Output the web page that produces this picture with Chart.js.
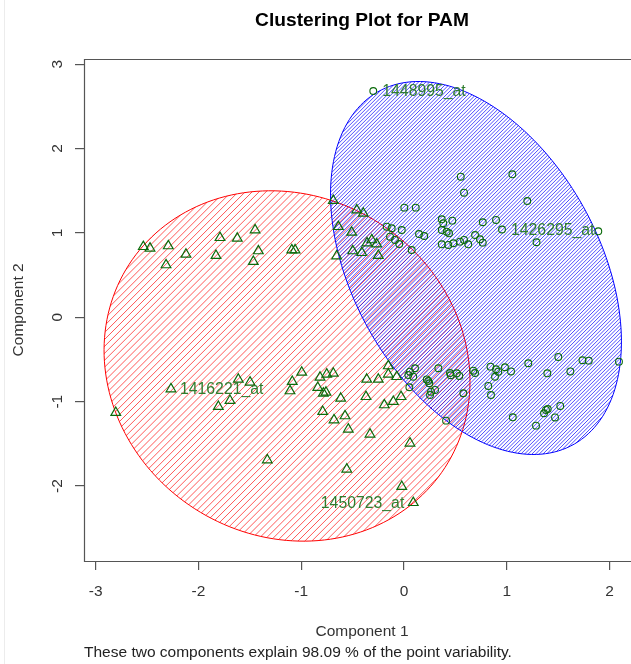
<!DOCTYPE html>
<html>
<head>
<meta charset="utf-8">
<script src="https://cdn.jsdelivr.net/npm/chart.js@4/dist/chart.umd.min.js"></script>
<style>
  html, body { margin: 0; padding: 0; background: #fff; overflow: hidden; }
  #wrap { width: 631px; height: 664px; position: relative; }
</style>
</head>
<body>
<div id="wrap"><canvas id="c" width="631" height="664"></canvas></div>
<script>
// ---------------- data ----------------
const chartTitle = "Clustering Plot for PAM";
const xAxisTitle = "Component 1";
const yAxisTitle = "Component 2";
const footnote = "These two components explain 98.09 % of the point variability.";

const xTickValues = [-3, -2, -1, 0, 1, 2];
const yTickValues = [-2, -1, 0, 1, 2, 3];

// cluster 1 (triangles)
const cluster1X = [-2.536,-2.471,-2.293,-2.315,-2.121,-1.790,-1.829,-1.622,-1.449,-1.417,-1.466,-1.092,-1.060,-0.688,-0.460,-0.396,-0.639,-0.509,-0.655,-0.499,-0.411,-0.314,-0.266,-0.250,-0.360,
  -2.267,-1.612,-1.498,-1.806,-1.693,-2.804,-1.330,-0.995,-1.087,-1.109,-0.817,-0.752,-0.688,-0.839,-0.785,-0.759,-0.616,-0.791,-0.681,-0.574,-0.542,-0.363,-0.250,-0.153,-0.153,-0.071,-0.370,-0.331,-0.192,-0.104,-0.029,0.058,-0.557,-0.022,0.090];
const cluster1Y = [0.836,0.818,0.845,0.620,0.746,0.943,0.730,0.936,1.034,0.786,0.659,0.797,0.797,1.382,1.271,1.232,1.073,1.007,0.726,0.786,0.765,0.916,0.868,0.730,0.880,
  -0.850,-0.735,-0.770,-1.059,-0.988,-1.130,-1.691,-0.652,-0.763,-0.873,-0.711,-0.675,-0.664,-0.834,-0.900,-0.889,-0.960,-1.118,-1.217,-1.169,-1.327,-0.735,-0.735,-0.577,-0.675,-0.704,-0.941,-1.386,-1.039,-1.000,-0.941,-1.493,-1.801,-2.007,-2.197];

// cluster 2 (circles)
const cluster2X = [-0.299,0.552,0.584,1.054,1.199,0.003,0.114,-0.168,-0.120,-0.022,-0.136,-0.088,-0.046,0.146,0.197,0.367,0.382,0.470,0.367,0.415,0.438,0.367,0.431,0.480,0.545,0.584,0.625,0.691,0.739,0.766,0.766,0.895,0.953,1.289,1.890,0.075,
  1.209,1.501,1.736,1.797,2.091,1.394,1.618,0.841,0.895,0.917,0.982,1.041,0.885,0.820,0.846,0.674,0.691,0.538,0.577,0.447,0.454,0.334,0.221,0.236,0.246,0.263,0.302,0.253,0.107,0.058,0.042,0.090,0.052,1.058,1.381,1.398,1.362,1.520,1.469,1.284,0.409,0.513];
const cluster2Y = [2.681,1.666,1.476,1.694,1.378,1.299,1.299,1.073,1.055,1.034,0.955,0.916,0.868,0.987,0.963,1.161,1.114,1.145,1.034,1.014,0.995,0.865,0.857,0.877,0.896,0.916,0.865,0.975,0.924,0.884,1.126,1.153,1.040,0.889,1.019,0.797,
  -0.545,-0.470,-0.509,-0.514,-0.526,-0.664,-0.642,-0.585,-0.616,-0.645,-0.592,-0.642,-0.704,-0.814,-0.921,-0.633,-0.660,-0.695,-0.900,-0.660,-0.687,-0.604,-0.737,-0.755,-0.782,-0.882,-0.861,-0.921,-0.604,-0.645,-0.684,-0.704,-0.829,-1.185,-1.098,-1.087,-1.137,-1.051,-1.187,-1.284,-1.225,-0.664];

// labelled points
const labelNames   = ["1416221_at", "1450723_at", "1448995_at", "1426295_at"];
const labelCluster = [1, 1, 2, 2];
const labelIndex   = [25, 59, 0, 32];

// cluster ellipses (data units): centre, semi-axes, rotation (degrees)
const ellipseCenterX   = [-1.138, 0.700];
const ellipseCenterY   = [-0.577, 0.584];
const ellipseSemiMajor = [2.097, 2.311];
const ellipseSemiMinor = [1.755, 1.243];
const ellipseAngle     = [-75.0, -69.7];

// ---------------- chart ----------------
const FONT = '"Liberation Sans", Arial, sans-serif';
const ellipseStyle = [
  { stroke: '#ff0000', hatch: 'rgba(255,0,0,0.66)', spacing: 4.9 },
  { stroke: '#0000ff', hatch: 'rgba(0,0,255,0.70)', spacing: 2.6 }
];
const labelSide = ['right', 'left', 'right', 'right'];

function toPoints(xs, ys) { return xs.map((x, i) => ({ x: x, y: ys[i] })); }

function ellipsePath(ctx, xs, ys, k) {
  const th = ellipseAngle[k] * Math.PI / 180;
  const a = ellipseSemiMajor[k], b = ellipseSemiMinor[k];
  const cx = ellipseCenterX[k], cy = ellipseCenterY[k];
  ctx.beginPath();
  for (let d = 0; d <= 360; d += 2) {
    const t = d * Math.PI / 180;
    const ux = a * Math.cos(t), uy = b * Math.sin(t);
    const dx = cx + ux * Math.cos(th) - uy * Math.sin(th);
    const dy = cy + ux * Math.sin(th) + uy * Math.cos(th);
    const px = xs.getPixelForValue(dx), py = ys.getPixelForValue(dy);
    if (d === 0) ctx.moveTo(px, py); else ctx.lineTo(px, py);
  }
  ctx.closePath();
}

const clusPlugin = {
  id: 'clus',
  beforeDatasetsDraw(chart) {
    const ctx = chart.ctx, ca = chart.chartArea;
    const xs = chart.scales.x, ys = chart.scales.y;
    ctx.save();
    ctx.beginPath();
    ctx.rect(ca.left, ca.top, ca.right - ca.left, ca.bottom - ca.top);
    ctx.clip();
    for (let k = 0; k < ellipseCenterX.length; k++) {
      const st = ellipseStyle[k];
      ctx.save();
      ellipsePath(ctx, xs, ys, k);
      ctx.clip();
      ctx.strokeStyle = st.hatch;
      ctx.lineWidth = 1;
      const step = st.spacing * Math.SQRT2;
      const W = chart.width, H = chart.height;
      ctx.beginPath();
      for (let c = 0.5; c <= W + H; c += step) {
        ctx.moveTo(0, c);
        ctx.lineTo(c, 0);
      }
      ctx.stroke();
      ctx.restore();
      ellipsePath(ctx, xs, ys, k);
      ctx.strokeStyle = st.stroke;
      ctx.lineWidth = 1;
      ctx.stroke();
    }
    ctx.restore();
  },
  afterDatasetsDraw(chart) {
    const ctx = chart.ctx;
    const xs = chart.scales.x, ys = chart.scales.y;
    ctx.save();
    ctx.font = '15.8px ' + FONT;
    ctx.fillStyle = '#2f7d2f';
    ctx.textBaseline = 'middle';
    for (let i = 0; i < labelNames.length; i++) {
      const arrX = labelCluster[i] === 1 ? cluster1X : cluster2X;
      const arrY = labelCluster[i] === 1 ? cluster1Y : cluster2Y;
      const px = xs.getPixelForValue(arrX[labelIndex[i]]);
      const py = ys.getPixelForValue(arrY[labelIndex[i]]);
      if (labelSide[i] === 'left') {
        ctx.textAlign = 'right';
        ctx.fillText(labelNames[i], px - 9, py + 1);
      } else {
        ctx.textAlign = 'left';
        ctx.fillText(labelNames[i], px + 9, py + 1);
      }
    }
    ctx.restore();
  },
  afterDraw(chart) {
    const ctx = chart.ctx, ca = chart.chartArea;
    const ys = chart.scales.y;
    ctx.save();
    ctx.strokeStyle = '#ececec';
    ctx.lineWidth = 1;
    ctx.beginPath(); ctx.moveTo(4.5, 0); ctx.lineTo(4.5, 664); ctx.stroke();
    ctx.strokeStyle = '#555';
    ctx.lineWidth = 1.2;
    ctx.beginPath();
    ctx.moveTo(chart.width + 2, Math.round(ca.top) + 0.5);
    ctx.lineTo(Math.round(ca.left) + 0.5, Math.round(ca.top) + 0.5);
    ctx.lineTo(Math.round(ca.left) + 0.5, Math.round(ca.bottom) + 0.5);
    ctx.lineTo(chart.width + 2, Math.round(ca.bottom) + 0.5);
    ctx.stroke();
    ctx.fillStyle = '#333';
    ctx.font = '15.5px ' + FONT;
    ctx.textAlign = 'center';
    ctx.textBaseline = 'middle';
    yTickValues.forEach(v => {
      const py = ys.getPixelForValue(v);
      ctx.save();
      ctx.translate(58, py);
      ctx.rotate(-Math.PI / 2);
      ctx.fillText(String(v), 0, 0);
      ctx.restore();
    });
    const midX = 362;
    ctx.fillText(xAxisTitle, midX, 632);
    ctx.save();
    ctx.translate(19, (ca.top + ca.bottom) / 2);
    ctx.rotate(-Math.PI / 2);
    ctx.fillText(yAxisTitle, 0, 0);
    ctx.restore();
    ctx.fillStyle = '#000';
    ctx.font = 'bold 19.2px ' + FONT;
    ctx.fillText(chartTitle, midX, 21);
    ctx.fillStyle = '#222';
    ctx.font = '15.5px ' + FONT;
    ctx.textAlign = 'left';
    ctx.fillText(footnote, 84, 653);
    ctx.restore();
  }
};

const scaleCommon = {
  type: 'linear',
  grid: { drawOnChartArea: false, drawTicks: true, tickLength: 9, color: '#555', lineWidth: 1.2 },
  border: { display: false }
};

new Chart(document.getElementById('c'), {
  type: 'scatter',
  data: {
    datasets: [
      {
        label: 'Cluster 1',
        data: toPoints(cluster1X, cluster1Y),
        pointStyle: 'triangle',
        pointRadius: 5.6,
        borderColor: '#0b6b0b',
        backgroundColor: 'rgba(0,0,0,0)',
        borderWidth: 1.2
      },
      {
        label: 'Cluster 2',
        data: toPoints(cluster2X, cluster2Y),
        pointStyle: 'circle',
        pointRadius: 3.4,
        borderColor: '#0b6b0b',
        backgroundColor: 'rgba(0,0,0,0)',
        borderWidth: 1.1
      }
    ]
  },
  options: {
    responsive: false,
    animation: false,
    devicePixelRatio: 1,
    events: [],
    layout: { autoPadding: false, padding: { top: 58.7, left: 0, right: 0, bottom: 0 } },
    plugins: { legend: { display: false }, tooltip: { enabled: false }, title: { display: false } },
    scales: {
      x: Object.assign({}, scaleCommon, {
        position: 'bottom',
        min: -3.113, max: 2.208,
        afterBuildTicks: s => { s.ticks = xTickValues.map(v => ({ value: v })); },
        afterFit: s => { s.height = 103; s.paddingLeft = 0; s.paddingRight = 0; },
        ticks: { color: '#333', font: { family: FONT, size: 15.5 }, padding: 12, maxRotation: 0, autoSkip: false }
      }),
      y: Object.assign({}, scaleCommon, {
        position: 'left',
        min: -2.888, max: 3.064,
        afterBuildTicks: s => { s.ticks = yTickValues.map(v => ({ value: v })); },
        afterFit: s => { s.width = 84; s.paddingTop = 0; s.paddingBottom = 0; },
        ticks: { display: false }
      })
    }
  },
  plugins: [clusPlugin]
});
</script>
</body>
</html>
